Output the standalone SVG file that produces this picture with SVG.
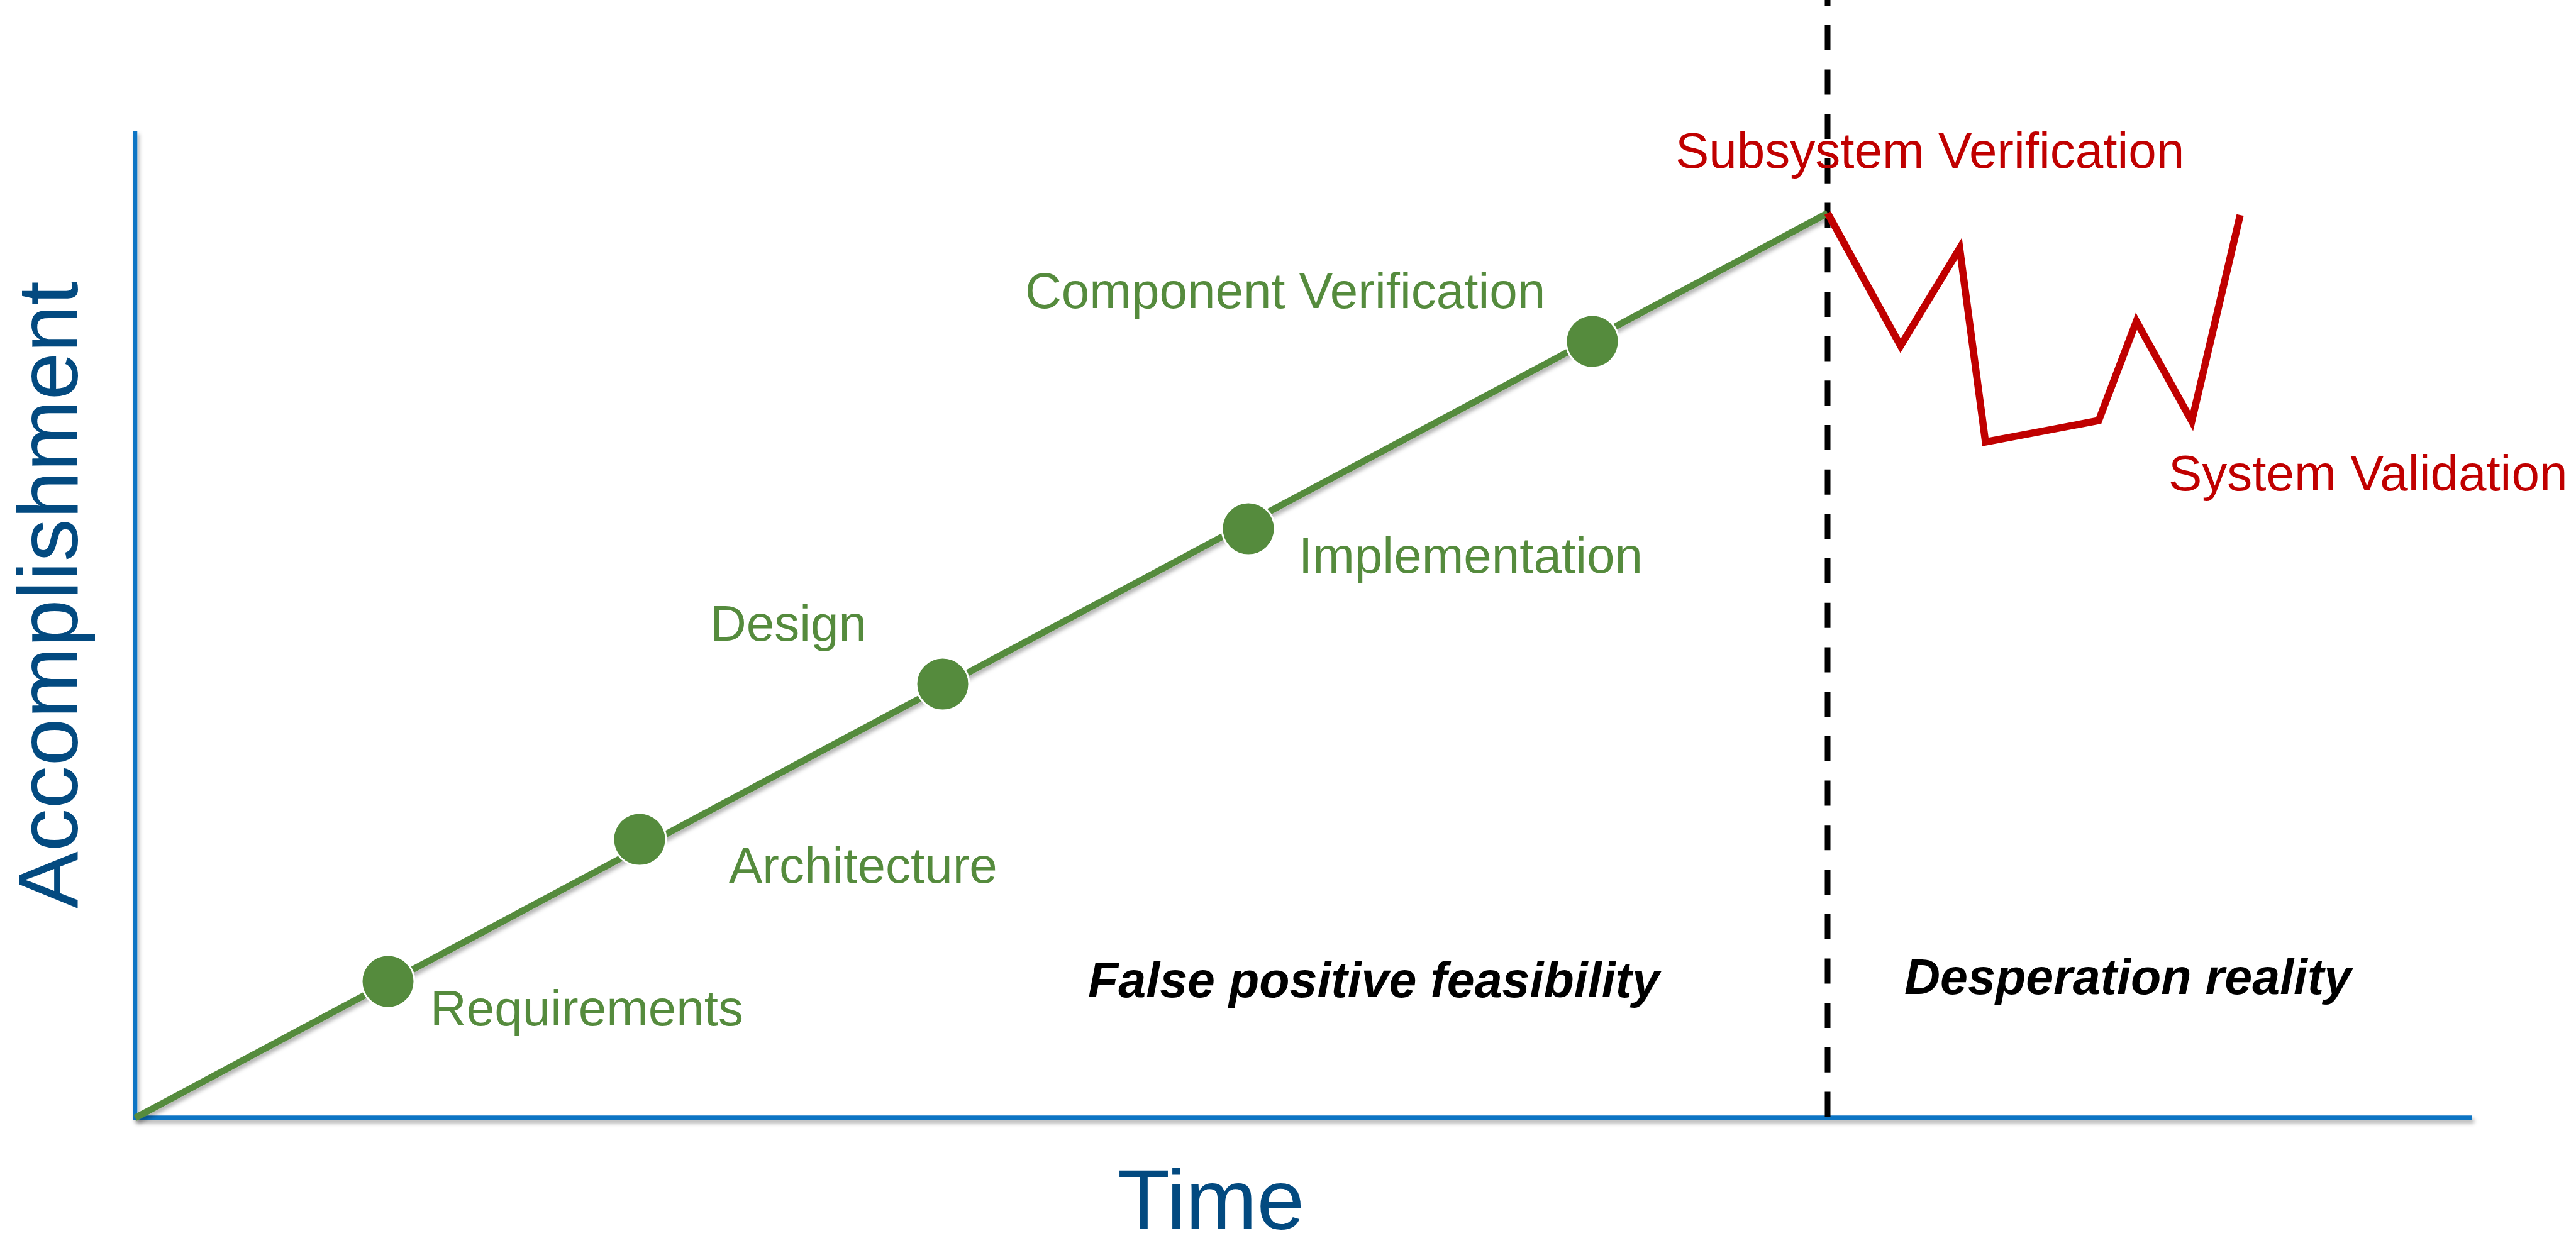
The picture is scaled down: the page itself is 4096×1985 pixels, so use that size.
<svg xmlns="http://www.w3.org/2000/svg" width="4096" height="1985" viewBox="0 0 4096 1985">
<defs>
<filter id="sh" x="-5%" y="-5%" width="110%" height="110%">
<feDropShadow dx="3" dy="5" stdDeviation="3" flood-color="#000" flood-opacity="0.3"/>
</filter>
</defs>
<style>
.g{font-family:"Liberation Sans",Arial,sans-serif;font-size:80px;fill:#558B3D}
.r{font-family:"Liberation Sans",Arial,sans-serif;font-size:80px;fill:#C00000}
.b{font-family:"Liberation Sans",Arial,sans-serif;font-size:79px;font-weight:bold;font-style:italic;fill:#000}
.ax{font-family:"Liberation Sans",Arial,sans-serif;font-size:136px;fill:#034A80}
.dot{fill:#558B3D;stroke:#fff;stroke-width:3}
</style>
<rect width="4096" height="1985" fill="#fff"/>
<g id="axes" filter="url(#sh)">
<line x1="215" y1="208" x2="215" y2="1778" stroke="#0A75C4" stroke-width="6.5"/>
<line x1="212" y1="1778" x2="3931" y2="1778" stroke="#0A75C4" stroke-width="7.5"/>
</g>
<g id="connectors">
<line id="divider" x1="2906" y1="-31" x2="2906" y2="1778" stroke="#000" stroke-width="9" stroke-dasharray="40 30.7"/>
<line id="progress" x1="215" y1="1778" x2="2906" y2="339" stroke="#558B3D" stroke-width="10.5" filter="url(#sh)"/>
<polyline id="reality" points="2906,339 3022,550 3116,395 3157,703 3337,669 3397,511 3485,670 3562,342" fill="none" stroke="#C00000" stroke-width="11.5" stroke-linejoin="miter"/>
</g>
<g id="requirements"><circle class="dot" cx="617" cy="1561" r="42"/><text class="g" x="684" y="1631">Requirements</text></g>
<g id="architecture"><circle class="dot" cx="1017" cy="1335" r="42"/><text class="g" x="1159" y="1404">Architecture</text></g>
<g id="design"><circle class="dot" cx="1499" cy="1088" r="42"/><text class="g" x="1129" y="1019">Design</text></g>
<g id="implementation"><circle class="dot" cx="1985" cy="841" r="42"/><text class="g" x="2065" y="911">Implementation</text></g>
<g id="component-verification"><circle class="dot" cx="2532" cy="543" r="42"/><text class="g" x="1630" y="490">Component Verification</text></g>
<g id="subsystem-verification"><text class="r" x="2664" y="267">Subsystem Verification</text></g>
<g id="system-validation"><text class="r" x="3448" y="780">System Validation</text></g>
<g id="false-positive"><text class="b" x="1730" y="1586">False positive feasibility</text></g>
<g id="desperation"><text class="b" x="3028" y="1581">Desperation reality</text></g>
<g id="y-label"><text class="ax" transform="translate(123,1445) rotate(-90)">Accomplishment</text></g>
<g id="x-label"><text class="ax" x="1777" y="1955">Time</text></g>
</svg>
